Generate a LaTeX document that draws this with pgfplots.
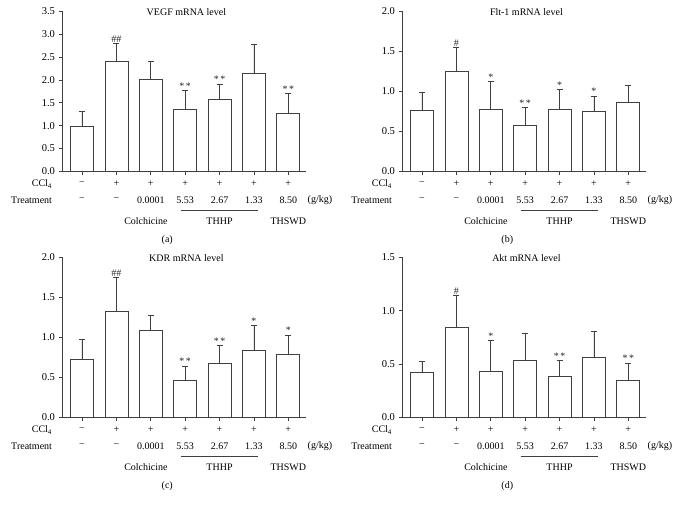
\documentclass[border=0pt]{standalone}
\usepackage{fontspec}
\setmainfont{Liberation Serif}
\usepackage{pgfplots}
\usepackage{pgfplotstable}
\pgfplotsset{compat=1.18}

% x  bar  err  significance
\pgfplotstableread{
x y e s
0 0.98 0.33 {}
1 2.41 0.38 {\#\#}
2 2.01 0.40 {}
3 1.36 0.41 {*\hspace{1.5pt}*}
4 1.58 0.33 {*\hspace{1.5pt}*}
5 2.14 0.63 {}
6 1.26 0.44 {*\hspace{1.5pt}*}
}\vegf
\pgfplotstableread{
x y e s
0 0.76 0.23 {}
1 1.25 0.30 {\#}
2 0.78 0.34 {*}
3 0.57 0.23 {*\hspace{1.5pt}*}
4 0.77 0.25 {*}
5 0.75 0.19 {*}
6 0.86 0.22 {}
}\flt
\pgfplotstableread{
x y e s
0 0.72 0.26 {}
1 1.32 0.43 {\#\#}
2 1.09 0.19 {}
3 0.46 0.18 {*\hspace{1.5pt}*}
4 0.68 0.22 {*\hspace{1.5pt}*}
5 0.84 0.31 {*}
6 0.79 0.24 {*}
}\kdr
\pgfplotstableread{
x y e s
0 0.42 0.105 {}
1 0.84 0.30 {\#}
2 0.43 0.29 {*}
3 0.53 0.26 {}
4 0.38 0.15 {*\hspace{1.5pt}*}
5 0.56 0.25 {}
6 0.35 0.16 {*\hspace{1.5pt}*}
}\akt

\colorlet{ln}{black!75}

\pgfplotsset{
  panel/.style={
    scale only axis, width=243pt, height=160pt,
    anchor=south west,
    xmin=-0.567, xmax=6.5, ymin=0,
    axis x line*=bottom, axis y line*=left,
    axis line style={ln, line width=0.7pt},
    xtick={0,...,6}, xticklabels={},
    ytick distance=0.5,
    tick align=outside, major tick length=4pt,
    tick style={ln, line width=0.7pt},
    yticklabel style={/pgf/number format/fixed,
      /pgf/number format/fixed zerofill, /pgf/number format/precision=1},
    /pgf/number format/assume math mode=true,
    ticklabel style={font=\fontsize{10.5}{12}\selectfont},
    clip=false,
  },
}

% bar series, error bars and significance marks
\newcommand{\bars}[1]{%
  \addplot[ybar, bar shift=0pt, bar width=23pt, draw=ln, fill=white, line width=0.7pt,
    error bars/.cd, y dir=plus, y explicit,
    error bar style={ln, line width=0.7pt},
    error mark options={rotate=90, mark size=3pt, ln, line width=0.7pt}]
    table[x=x, y=y, y error=e]{#1};
  \addplot[draw=none, nodes near coords, point meta=explicit symbolic,
    every node near coord/.style={anchor=south, inner sep=1pt,
      font=\fontsize{10}{10}\selectfont, text=black!85}]
    table[x=x, y expr=\thisrow{y}+\thisrow{e}, meta=s]{#1};
}

\newcommand{\cell}[4][center]{\node[anchor=#1, font=\fontsize{10}{12}\selectfont]
  at ([yshift=-#3pt]axis cs:#2,0) {#4};}

% treatment table under each panel
\newcommand{\treat}[1]{%
  \cell{0}{12.5}{−}\cell{1}{12.5}{+}\cell{2}{12.5}{+}\cell{3}{12.5}{+}%
  \cell{4}{12.5}{+}\cell{5}{12.5}{+}\cell{6}{12.5}{+}%
  \cell{0}{28.5}{−}\cell{1}{28.5}{−}\cell{2}{28.5}{0.0001}\cell{3}{28.5}{5.53}%
  \cell{4}{28.5}{2.67}\cell{5}{28.5}{1.33}\cell{6}{28.5}{8.50}%
  \cell[east]{-0.77}{12.5}{CCl\textsubscript{4}}%
  \cell[east]{-0.77}{28.5}{Treatment}%
  \cell{6.92}{28.5}{(g/kg)}%
  \cell{1.86}{49.5}{Colchicine}%
  \cell{4}{49.5}{THHP}%
  \cell{6}{49.5}{THSWD}%
  \draw[ln, line width=0.7pt] ([yshift=-39.5pt]axis cs:2.87,0) -- ([yshift=-39.5pt]axis cs:5.13,0);
  \cell{2.48}{68.5}{(#1)}%
}

\newcommand{\ttl}[1]{\node[font=\fontsize{10}{12}\selectfont] at ([yshift=-1pt]rel axis cs:0.51,1) {#1};}

\begin{document}
\begin{tikzpicture}
\useasboundingbox (0pt,0pt) rectangle (678pt,507pt);

\begin{axis}[panel, at={(62.5pt,335.7pt)}, ymax=3.5]
\bars{\vegf}
\ttl{VEGF mRNA level}
\treat{a}
\end{axis}

\begin{axis}[panel, at={(402.5pt,335.7pt)}, ymax=2]
\bars{\flt}
\ttl{Flt-1 mRNA level}
\treat{b}
\end{axis}

\begin{axis}[panel, at={(62.5pt,89.7pt)}, ymax=2]
\bars{\kdr}
\ttl{KDR mRNA level}
\treat{c}
\end{axis}

\begin{axis}[panel, at={(402.5pt,89.7pt)}, ymax=1.5]
\bars{\akt}
\ttl{Akt mRNA level}
\treat{d}
\end{axis}
\end{tikzpicture}
\end{document}
